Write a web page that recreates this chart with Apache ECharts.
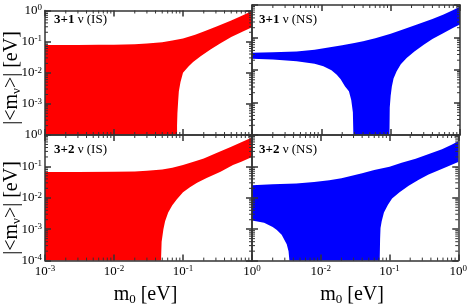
<!DOCTYPE html>
<html><head><meta charset="utf-8">
<script src="https://cdn.jsdelivr.net/npm/echarts@6/dist/echarts.min.js"></script>
<style>html,body{margin:0;padding:0;background:#fff}#c{width:470px;height:308px}</style>
</head><body><div id="c"></div>
<script>
// ---- data ----
const panelBold = ['3+1', '3+1', '3+2', '3+2'];
const panelTag = [' ν (IS)', ' ν (NS)', ' ν (IS)', ' ν (NS)'];
const xRange = [0.001, 1];
const yRange = [0.0001, 1];
const minorMultipliers = [2, 3, 4, 5, 6, 7, 8, 9];
const xDecades = [0.001, 0.01, 0.1];
const yDecades = [0.0001, 0.001, 0.01, 0.1];

// 3+1 IS
const tlUpper = [[0.001,0.078],[0.003,0.078],[0.006,0.079],[0.01,0.080],[0.02,0.083],[0.03,0.087],[0.05,0.096],[0.07,0.108],[0.1,0.127],[0.15,0.165],[0.2,0.21],[0.3,0.30],[0.5,0.48],[0.7,0.67],[1.0,0.96]];
const tlLower = [[1.0,0.29],[0.7,0.20],[0.5,0.14],[0.34,0.086],[0.25,0.056],[0.18,0.034],[0.14,0.022],[0.12,0.016],[0.1,0.010],[0.092,0.005],[0.087,0.0025],[0.085,0.0012],[0.083,0.0005],[0.082,0.0002],[0.082,0.0001],[0.001,0.0001]];
// 3+1 NS
const trUpper = [[0.001,0.034],[0.002,0.035],[0.0044,0.037],[0.008,0.042],[0.0133,0.050],[0.02,0.058],[0.03,0.068],[0.04,0.077],[0.06,0.095],[0.1,0.13],[0.15,0.175],[0.24,0.25],[0.4,0.37],[0.58,0.51],[0.8,0.70],[1.0,0.90]];
const trLower = [[1.0,0.25],[0.8,0.20],[0.58,0.138],[0.4,0.09],[0.3,0.06],[0.22,0.037],[0.17,0.0235],[0.14,0.015],[0.122,0.0091],[0.11,0.0055],[0.104,0.0031],[0.1,0.0016],[0.097,0.0007],[0.096,0.0001],
  [0.029,0.0001],[0.0285,0.0005],[0.027,0.0012],[0.025,0.0022],[0.022,0.0031],[0.019,0.0052],[0.0167,0.0072],[0.014,0.0098],[0.0107,0.013],[0.008,0.0155],[0.0044,0.0185],[0.002,0.021],[0.001,0.022]];
// 3+2 IS
const blUpper = [[0.001,0.066],[0.003,0.066],[0.01,0.067],[0.02,0.069],[0.03,0.073],[0.05,0.080],[0.07,0.091],[0.1,0.110],[0.15,0.145],[0.2,0.18],[0.3,0.26],[0.5,0.42],[0.7,0.59],[1.0,0.83]];
const blLower = [[1.0,0.20],[0.7,0.14],[0.53,0.11],[0.35,0.068],[0.22,0.043],[0.16,0.030],[0.126,0.0215],[0.1,0.015],[0.081,0.0089],[0.07,0.0058],[0.061,0.0034],[0.055,0.0018],[0.052,0.001],[0.049,0.0004],[0.048,0.0001],[0.001,0.0001]];
// 3+2 NS
const brUpper = [[0.001,0.025],[0.002,0.027],[0.0044,0.0285],[0.008,0.032],[0.0133,0.036],[0.02,0.042],[0.04,0.061],[0.06,0.077],[0.1,0.098],[0.15,0.13],[0.24,0.175],[0.4,0.26],[0.58,0.35],[0.8,0.49],[1.0,0.63]];
const brLower = [[1.0,0.138],[0.7,0.099],[0.5,0.073],[0.37,0.055],[0.27,0.038],[0.19,0.024],[0.14,0.015],[0.109,0.0095],[0.095,0.006],[0.083,0.0034],[0.077,0.0018],[0.074,0.0011],[0.073,0.0005],[0.072,0.0001],
  [0.0035,0.0001],[0.0034,0.0002],[0.0032,0.00033],[0.0027,0.00066],[0.0023,0.00095],[0.002,0.00118],[0.0015,0.0016],[0.001,0.0019]];

const bands = [tlUpper.concat(tlLower), trUpper.concat(trLower), blUpper.concat(blLower), brUpper.concat(brLower)];
const bandColors = ['#ff0000', '#0000ff', '#ff0000', '#0000ff'];

// ---- chart ----
const FONT = '"Liberation Serif", "Times New Roman", serif';
const AX = '#333';
const grids = [
  {left: 45, top: 5, width: 207, height: 130},
  {left: 252, top: 5, width: 208, height: 130},
  {left: 45, top: 135, width: 207, height: 132},
  {left: 252, top: 135, width: 208, height: 132}
];
const tickRich = {
  b: {fontFamily: FONT, fontSize: 13, lineHeight: 14, padding: [4, 0, 4, 0], color: '#000'},
  s: {fontFamily: FONT, fontSize: 9, lineHeight: 9, verticalAlign: 'top', color: '#000'}
};
function fmt(v) { return '{b|10}{s|' + Math.round(Math.log10(v)) + '}'; }
const lineSty = {color: AX, width: 1.5};
const nameRich = {
  n: {fontFamily: FONT, fontSize: 20, lineHeight: 22, padding: [2, 0, 2, 0], color: '#000', fill: '#000'},
  sub: {fontFamily: FONT, fontSize: 13, lineHeight: 13, verticalAlign: 'bottom', color: '#000', fill: '#000'}
};
const minorX = [], minorY = [];
xDecades.forEach(d => minorMultipliers.forEach(m => minorX.push(m * d)));
yDecades.forEach(d => minorMultipliers.forEach(m => minorY.push(m * d)));

const xAxes = [], yAxes = [], series = [];
grids.forEach((g, i) => {
  const bottomRow = i >= 2, leftCol = i % 2 === 0;
  const common = {
    type: 'log', logBase: 10, gridIndex: i, z: 5,
    axisLine: {show: true, onZero: false, lineStyle: lineSty},
    axisTick: {show: true, inside: true, length: 6, lineStyle: lineSty},
    splitLine: {show: false}
  };
  xAxes.push(Object.assign({}, common, {
    position: 'bottom', min: xRange[0], max: xRange[1],
    axisLabel: {show: bottomRow, formatter: fmt, rich: tickRich, margin: 4, showMinLabel: leftCol},
    name: bottomRow ? '{n|m}{sub|0}{n| [eV]}' : '', nameLocation: 'middle', nameGap: 14,
    nameTextStyle: {rich: nameRich, padding: [0, 6, 0, 0]}
  }));
  xAxes.push(Object.assign({}, common, {
    position: 'top', min: xRange[0], max: xRange[1], axisLabel: {show: false}
  }));
  yAxes.push(Object.assign({}, common, {
    position: 'left', min: yRange[0], max: yRange[1],
    axisLabel: {show: leftCol, formatter: fmt, rich: tickRich, margin: 3, showMinLabel: bottomRow}
  }));
  yAxes.push(Object.assign({}, common, {
    position: 'right', min: yRange[0], max: yRange[1], axisLabel: {show: false}
  }));
  const poly = bands[i], color = bandColors[i];
  series.push({
    type: 'custom', xAxisIndex: 2 * i, yAxisIndex: 2 * i, z: 1, silent: true,
    data: [[0.01, 0.01]],
    renderItem: function (params, api) {
      return {type: 'polygon', shape: {points: poly.map(p => api.coord(p))}, style: {fill: color}};
    }
  });
  // minor ticks on all four sides, placed through the axes' scales
  series.push({
    type: 'custom', xAxisIndex: 2 * i, yAxisIndex: 2 * i, z: 6, silent: true, clip: false,
    data: [[0.01, 0.01]],
    renderItem: function (params, api) {
      const ch = [], L = 3, st = {stroke: AX, lineWidth: 1};
      minorX.forEach(v => {
        const b = api.coord([v, yRange[0]]), t = api.coord([v, yRange[1]]);
        ch.push({type: 'line', shape: {x1: b[0], y1: b[1], x2: b[0], y2: b[1] - L}, style: st});
        ch.push({type: 'line', shape: {x1: t[0], y1: t[1], x2: t[0], y2: t[1] + L}, style: st});
      });
      minorY.forEach(v => {
        const l = api.coord([xRange[0], v]), r = api.coord([xRange[1], v]);
        ch.push({type: 'line', shape: {x1: l[0], y1: l[1], x2: l[0] + L, y2: l[1]}, style: st});
        ch.push({type: 'line', shape: {x1: r[0], y1: r[1], x2: r[0] - L, y2: r[1]}, style: st});
      });
      return {type: 'group', children: ch};
    }
  });
});

const graphics = grids.map((g, i) => ({
  type: 'text', left: g.left + (i % 2 === 0 ? 9 : 7), top: g.top + 8, z: 10,
  style: {text: '{b|' + panelBold[i] + '}{t|' + panelTag[i] + '}',
    rich: {b: {fontFamily: FONT, fontSize: 13, fontWeight: 'bold', fill: '#000'}, t: {fontFamily: FONT, fontSize: 13, fill: '#000'}}}
}));
[78, 208].forEach(cy => graphics.push({
  type: 'text', x: 12, y: cy, rotation: Math.PI / 2, z: 10,
  style: {text: '{n||<m}{sub|ν}{n|>| [eV]}', rich: nameRich, textAlign: 'center', textVerticalAlign: 'middle'}
}));

const chart = echarts.init(document.getElementById('c'), null, {renderer: 'canvas'});
chart.setOption({
  animation: false, backgroundColor: '#fff',
  grid: grids, xAxis: xAxes, yAxis: yAxes, series: series, graphic: graphics
});
</script></body></html>
